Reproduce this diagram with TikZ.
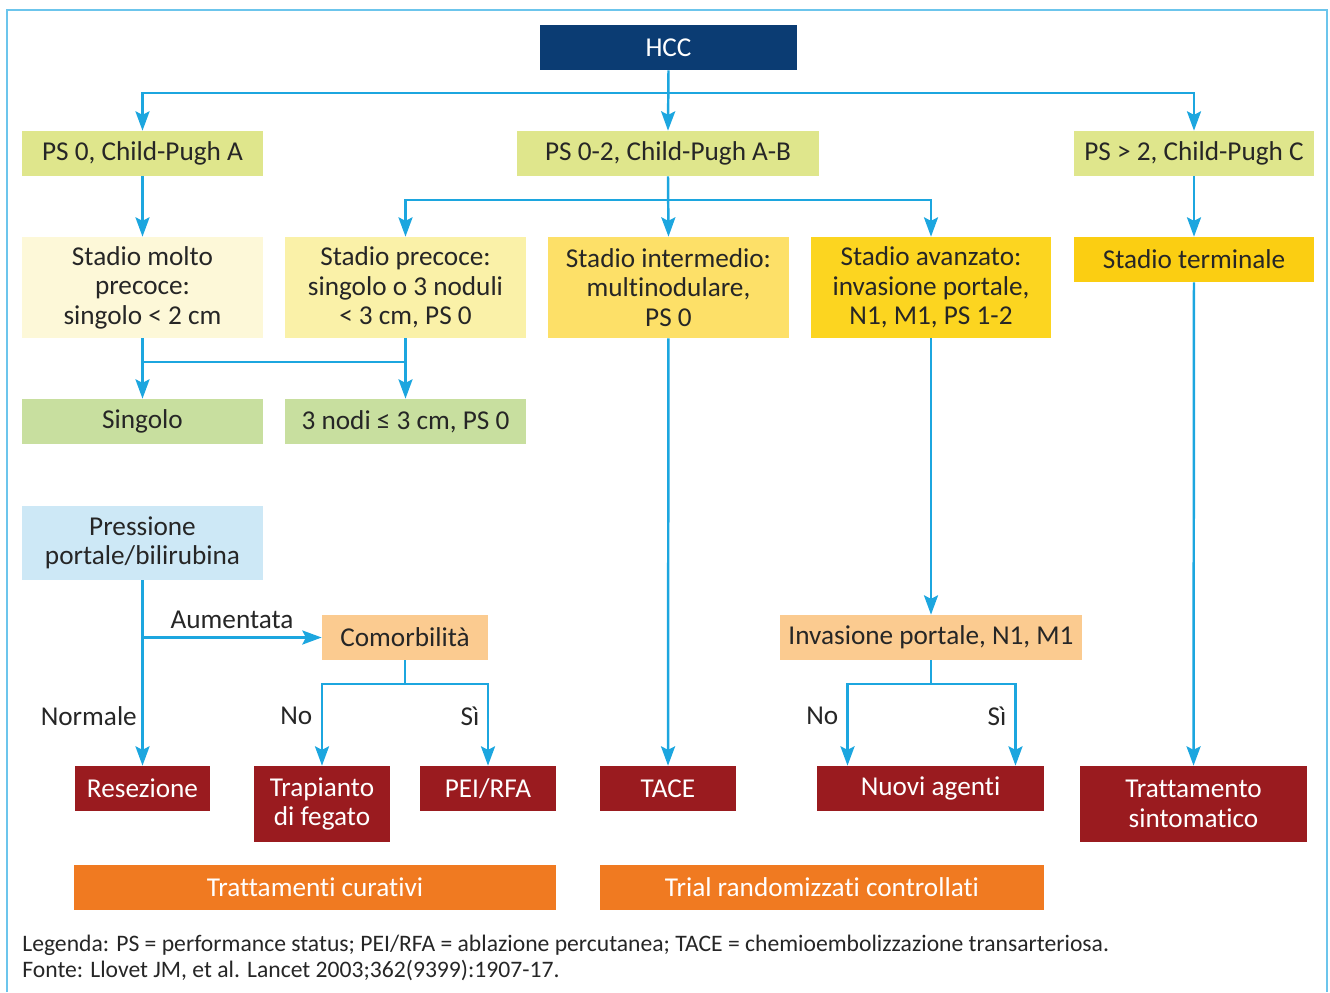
\documentclass[tikz,border=0pt]{standalone}
\usepackage{fontspec}
\setmainfont{Carlito}[Ligatures=NoCommon]
\usepackage{xcolor}
\usetikzlibrary{arrows.meta,positioning}

\definecolor{hccblue}{HTML}{0B3C73}
\definecolor{psgreen}{HTML}{DFE68C}
\definecolor{moltoyel}{HTML}{FDF8D8}
\definecolor{precyel}{HTML}{FAF1A8}
\definecolor{intyel}{HTML}{FDE068}
\definecolor{avzyel}{HTML}{FCD520}
\definecolor{termyel}{HTML}{FBCE12}
\definecolor{nodgreen}{HTML}{C8DF9F}
\definecolor{presblue}{HTML}{CDE8F6}
\definecolor{peach}{HTML}{FBCB90}
\definecolor{trtred}{HTML}{9A1B1F}
\definecolor{bandorange}{HTML}{F07A21}
\definecolor{arrblue}{HTML}{1CA6DF}
\definecolor{framblue}{HTML}{6CC5EC}

\tikzset{
  box/.style={rectangle, inner sep=0pt, align=center, text=black!85,
    minimum height=0.9cm, font=\fontsize{15.5}{16.8}\selectfont},
  wide/.style={box, minimum width=4.82cm},
  tall/.style={wide, minimum height=2.02cm},
  trt/.style={box, fill=trtred, text=white, minimum width=2.72cm},
  band/.style={box, fill=bandorange, text=white},
  arr/.style={draw=arrblue, line width=1.4pt, -{Stealth[length=11pt,width=8pt,inset=2pt]}},
  link/.style={draw=arrblue, line width=1.4pt},
  lbl/.style={text=black!85, font=\fontsize{15.5}{16.8}\selectfont}
}

\begin{document}
\begin{tikzpicture}[x=0.02cm, y=-0.02cm]
\useasboundingbox (0,0) rectangle (1330,992);
\draw[framblue, line width=1.2pt] (7,992) -- (7,10) -- (1327,10) -- (1327,992);

% top levels
\node[box, fill=hccblue, text=white, minimum width=5.14cm] (hcc) at (668.5,47.5) {HCC};
\node[wide, fill=psgreen] (psA) at (142.5,153.5) {PS 0, Child-Pugh A};
\node[box, fill=psgreen, minimum width=6.04cm] (psAB) at (668,153.5) {PS 0-2, Child-Pugh A-B};
\node[wide, fill=psgreen] (psC) at (1194,153.5) {PS > 2, Child-Pugh C};

% stadi
\node[tall, fill=moltoyel] (molto) at (142.5,287.5) {Stadio molto\\precoce:\\singolo < 2 cm};
\node[tall, fill=precyel] (precoce) at (405.5,287.5) {Stadio precoce:\\singolo o 3 noduli\\< 3 cm, PS 0};
\node[tall, fill=intyel] (interm) at (668.5,287.5) {Stadio intermedio:\\multinodulare,\\PS 0};
\node[tall, fill=avzyel] (avanz) at (931,287.5) {Stadio avanzato:\\invasione portale,\\N1, M1, PS 1-2};
\node[wide, fill=termyel] (termin) at (1194,259.5) {Stadio terminale};

\node[wide, fill=nodgreen] (singolo) at (142.5,421.5) {Singolo};
\node[wide, fill=nodgreen] (trenodi) at (405.5,421.5) {3 nodi ≤ 3 cm, PS 0};
\node[wide, fill=presblue, minimum height=1.48cm] (press) at (142.5,543) {Pressione\\portale/bilirubina};
\node[box, fill=peach, minimum width=3.32cm] (comorb) at (405,637.5) {Comorbilità};
\node[box, fill=peach, minimum width=6.04cm] (invas) at (931,637.5) {Invasione portale, N1, M1};

% trattamenti
\node[trt] (resez) at (142.5,788.5) {Resezione};
\node[trt, minimum height=1.52cm] (trapianto) at (322,804) {Trapianto\\di fegato};
\node[trt] (peirfa) at (488,788.5) {PEI/RFA};
\node[trt] (tace) at (668,788.5) {TACE};
\node[trt, minimum width=4.54cm] (nuovi) at (930.5,788.5) {Nuovi agenti};
\node[trt, minimum width=4.54cm, minimum height=1.52cm] (sintom) at (1193.5,804) {Trattamento\\sintomatico};

\node[band, minimum width=9.64cm] (curativi) at (315,887.5) {Trattamenti curativi};
\node[band, minimum width=8.88cm] (trial) at (822,887.5) {Trial randomizzati controllati};

% connectors
\coordinate (hccj) at (668,93);
\draw[arr] (hcc.south) -- (psAB.north);
\draw[arr] (hccj) -| (psA.north);
\draw[arr] (hccj) -| (psC.north);
\draw[arr] (psA) -- (molto);
\coordinate (abj) at (668,200);
\draw[arr] (psAB.south) -- (interm.north);
\draw[arr] (abj) -| (precoce.north);
\draw[arr] (abj) -| (avanz.north);
\draw[arr] (psC) -- (termin);
\draw[arr] (molto) -- (singolo);
\draw[arr] (precoce) -- (trenodi);
\draw[link] (molto.south |- 0,362) -- (precoce.south |- 0,362);
\draw[arr] (interm) -- (tace);
\draw[arr] (avanz) -- (invas);
\draw[arr] (termin) -- (sintom);
\draw[arr] (press) -- (resez);
\draw[arr] (press.south |- comorb.west) -- node[lbl, above=1pt] {Aumentata} (comorb.west);
\coordinate (coj) at (405,684);
\draw[link] (comorb) -- (coj);
\draw[arr] (coj) -| (trapianto.north);
\draw[arr] (coj) -| (peirfa.north);
\coordinate (inj) at (931,684);
\draw[link] (invas) -- (inj);
\draw[arr] (inj) -| ([xshift=-1.66cm]nuovi.north);
\draw[arr] (inj) -| ([xshift=1.7cm]nuovi.north);

% labels
\node[lbl, left=0pt] (normale) at (143,716) {Normale};
\node[lbl, left=2pt] (noA) at (322,716) {No};
\node[lbl, left=2pt] (siA) at (489,716) {Sì};
\node[lbl, left=2pt] (noB) at (848,716) {No};
\node[lbl, left=2pt] (siB) at (1016,716) {Sì};

% legenda
\node[anchor=base west, inner sep=0pt, text=black!85, font=\fontsize{13.45}{15}\selectfont] (legenda) at (22,951)
  {Legenda: PS = performance status; PEI/RFA = ablazione percutanea; TACE = chemioembolizzazione transarteriosa.};
\node[anchor=base west, inner sep=0pt, text=black!85, font=\fontsize{13.45}{15}\selectfont] (fonte) at (22,977)
  {Fonte: Llovet JM, et al. Lancet 2003;362(9399):1907-17.};
\end{tikzpicture}
\end{document}
